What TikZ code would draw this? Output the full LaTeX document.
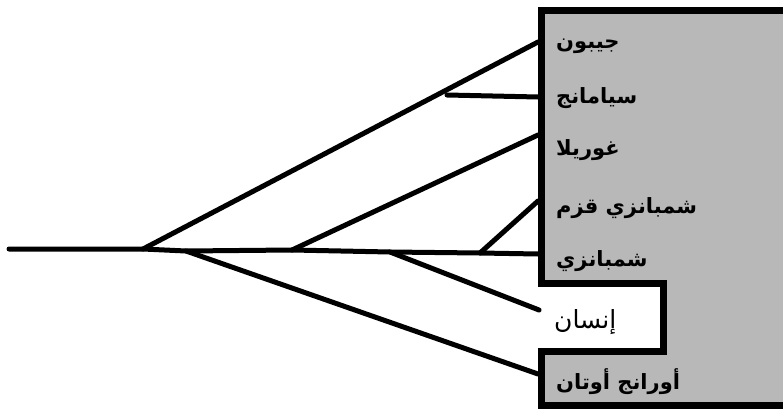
\documentclass[tikz,border=0pt]{standalone}
\usepackage{fontspec}
\newfontfamily\arabicfont[Script=Arabic]{DejaVu Sans}
\TeXXeTstate=1
\begin{document}
\begin{tikzpicture}[x=1pt,y=-1pt,
  branch/.style={line width=5pt,line cap=round},
  lab/.style={anchor=west,inner sep=0pt,font=\arabicfont\bfseries\fontsize{21}{24}\selectfont},
  labplain/.style={anchor=west,inner sep=0pt,font=\arabicfont\fontsize{25}{28}\selectfont}]
\useasboundingbox (0,0) rectangle (783,412);
% panel with notch
\fill[black!28] (541,11) -- (795,11) -- (795,405) -- (541,405) -- (541,351) -- (663,351) -- (663,283) -- (541,283) -- cycle;
\draw[line width=7pt,line join=miter] (795,11) -- (541,11) -- (541,283) -- (663,283) -- (663,351) -- (541,351) -- (541,405) -- (795,405);
% labels
\node[lab] (gib) at (556,46) {\beginR جيبون\endR};
\node[lab] (sia) at (556,98) {\beginR سيامانج\endR};
\node[lab] (gor) at (556,150) {\beginR غوريلا\endR};
\node[lab] (pyg) at (556,208) {\beginR شمبانزي قزم\endR};
\node[lab] (chi) at (556,261) {\beginR شمبانزي\endR};
\node[labplain] (hum) at (554,322) {\beginR إنسان\endR};
\node[lab] (ora) at (556,382) {\beginR أورانج أوتان\endR};
% tree coordinates
\coordinate (root) at (9,249);
\coordinate (j1) at (143,249);
\coordinate (j2) at (186,251);
\coordinate (j3) at (292,250);
\coordinate (j4) at (390,252);
\coordinate (j5) at (480,253);
\coordinate (js) at (447,95);
\coordinate (egib) at (538,42);
\coordinate (esia) at (538,97);
\coordinate (egor) at (538,135);
\coordinate (epyg) at (538,201);
\coordinate (echi) at (538,254);
\coordinate (ehum) at (539,310);
\coordinate (eora) at (538,374);
% branches
\draw[branch] (root) -- (j1) -- (j2) -- (j3) -- (j4) -- (j5) -- (echi);
\draw[branch] (j1) -- (egib);
\draw[branch] (js) -- (esia);
\draw[branch] (j3) -- (egor);
\draw[branch] (j5) -- (epyg);
\draw[branch] (j4) -- (ehum);
\draw[branch] (j2) -- (eora);
\end{tikzpicture}
\end{document}
